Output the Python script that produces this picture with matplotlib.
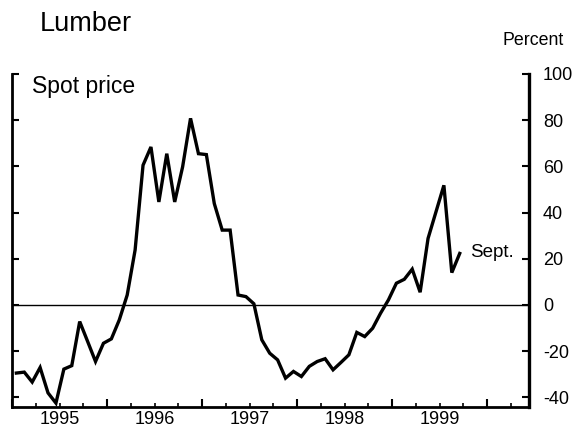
import matplotlib
matplotlib.use("Agg")
import matplotlib.pyplot as plt
import numpy as np
from matplotlib.ticker import MultipleLocator, FixedLocator

plt.rcParams['font.family'] = ['Liberation Sans', 'DejaVu Sans']
plt.rcParams['axes.unicode_minus'] = False

# Monthly 12-month percent change, Jan 1995 .. Sep 1999
spot_price = [
    -29.5, -29.1, -33.4, -27.1, -38.1, -42.5, -27.8, -26.3, -7.2, -15.8,
    -24.5, -16.6, -14.7, -6.5, 4.3, 23.8, 60.5, 68.4, 44.6, 65.5,
    44.6, 59.8, 80.8, 65.5, 65.1, 43.9, 32.4, 32.4, 4.3, 3.6,
    0.5, -15.1, -20.9, -23.8, -31.7, -28.8, -31.0, -26.6, -24.5, -23.3,
    -28.1, -24.9, -21.6, -11.9, -13.7, -10.1, -3.6, 2.2, 9.4, 11.1,
    15.5, 5.5, 28.8, 40.3, 51.8, 14.0, 22.3,
]
year_labels = ['1995', '1996', '1997', '1998', '1999']
y_ticks = [-40, -20, 0, 20, 40, 60, 80, 100]

months = np.arange(len(spot_price)) + 0.55  # mid-month, months since Jan 1995

fig = plt.figure(figsize=(5.77, 4.29), dpi=100)
ax = fig.add_axes([12/577, 1-407/429, (529-12)/577, (407-74)/429])

ax.plot(months, spot_price, color='black', lw=2.4, solid_joinstyle='miter')
ax.axhline(0, color='black', lw=1.0)

ax.set_xlim(0, 65.3)
ax.set_ylim(-44.2, 100)

for s in ['left', 'bottom']:
    ax.spines[s].set_linewidth(2.0)
ax.spines['right'].set_linewidth(2.4)
ax.spines['top'].set_visible(False)

# y axis: ticks inward both sides, labels on right
ax.yaxis.set_major_locator(FixedLocator(y_ticks))
ax.tick_params(axis='y', direction='in', left=True, right=True,
               labelleft=False, labelright=True, length=5, width=1.5,
               labelsize=13, pad=10)

# x axis: year boundaries (long), quarters (short)
ax.xaxis.set_major_locator(MultipleLocator(12))
ax.xaxis.set_minor_locator(MultipleLocator(3))
ax.tick_params(axis='x', which='major', direction='in', length=6, width=1.5,
               labelbottom=False)
ax.tick_params(axis='x', which='minor', direction='in', length=3, width=1.2)

sec = ax.secondary_xaxis('bottom')
sec.set_xticks([6 + 12*i for i in range(len(year_labels))], year_labels)
sec.tick_params(length=0, labelsize=13, pad=3)
sec.spines['bottom'].set_visible(False)

ax.text(57.9, 22.5, 'Sept.', fontsize=13.5, va='center', ha='left')

fig.text(40/577, 1-30.7/429, 'Lumber', fontsize=19.5, va='baseline', ha='left')
fig.text(32/577, 1-93/429, 'Spot price', fontsize=16.5, va='baseline', ha='left')
fig.text(503/577, 1-45/429, 'Percent', fontsize=12.8, va='baseline', ha='left')

fig.savefig('out.png', dpi=100)
